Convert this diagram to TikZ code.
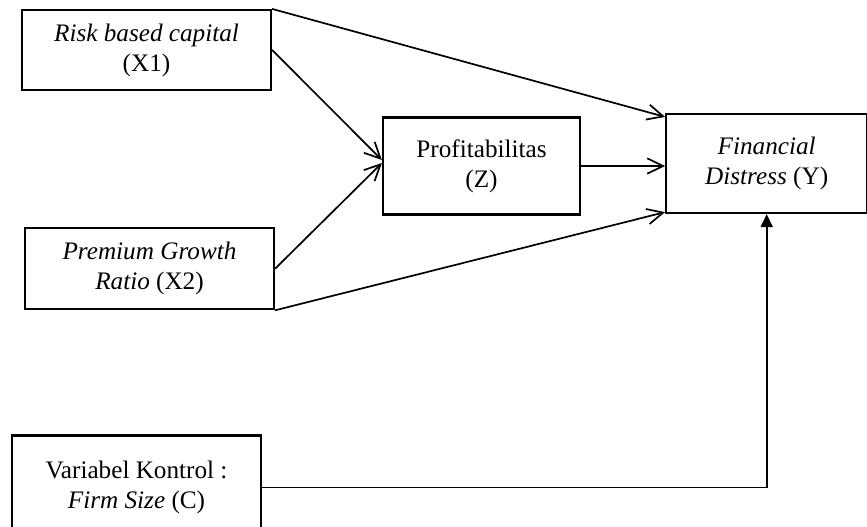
\documentclass[tikz,border=0pt]{standalone}
\usepackage{fontspec}
\setmainfont{Liberation Serif}
\usetikzlibrary{positioning, arrows.meta}

\begin{document}
\begin{tikzpicture}[
    >={Straight Barb[length=2.8mm, width=2.7mm]},
    kotak/.style={rectangle, draw, line width=1.1pt, align=center,
                  inner sep=0pt, minimum width=124.5pt, minimum height=40pt,
                  font=\fontsize{12.6pt}{15pt}\selectfont},
    panah/.style={->, line width=0.85pt}]
    \useasboundingbox (0,0) rectangle (433.5pt,-263pt);
    % variabel di sebelah kiri
    \node[kotak] (x1) at (73.25pt,-25pt) {\textit{Risk based capital}\\(X1)};
    \node[kotak, minimum height=40.5pt, below=68pt of x1, xshift=1.5pt] (x2) {\textit{Premium Growth}\\\textit{Ratio} (X2)};
    \node[kotak, minimum height=52pt, below=62pt of x2, xshift=-6.5pt] (c) {Variabel Kontrol :\\\textit{Firm Size} (C)};
    % mediasi dan variabel dependen
    \node[kotak, minimum width=98.5pt, minimum height=48.5pt] (z) at (240.75pt,-83pt) {Profitabilitas\\(Z)};
    \node[kotak, minimum width=100.5pt, minimum height=49.5pt, right=42pt of z, yshift=1.25pt] (y) {\textit{Financial}\\\textit{Distress} (Y)};
    % hubungan antar variabel
    \draw[panah] (x1.north east) -- ([yshift=-2pt]y.north west);
    \draw[panah] (x1.east) -- ([yshift=3pt]z.west);
    \draw[panah] (x2.east) -- ([yshift=1.5pt]z.west);
    \draw[panah] (z.east) -- (z.east -| y.west);
    \draw[panah] (x2.south east) -- ([yshift=1pt]y.south west);
    \draw[line width=0.85pt, -{Triangle[length=6.5pt, width=6pt]}] (c.east) -| (y.south);
\end{tikzpicture}
\end{document}
